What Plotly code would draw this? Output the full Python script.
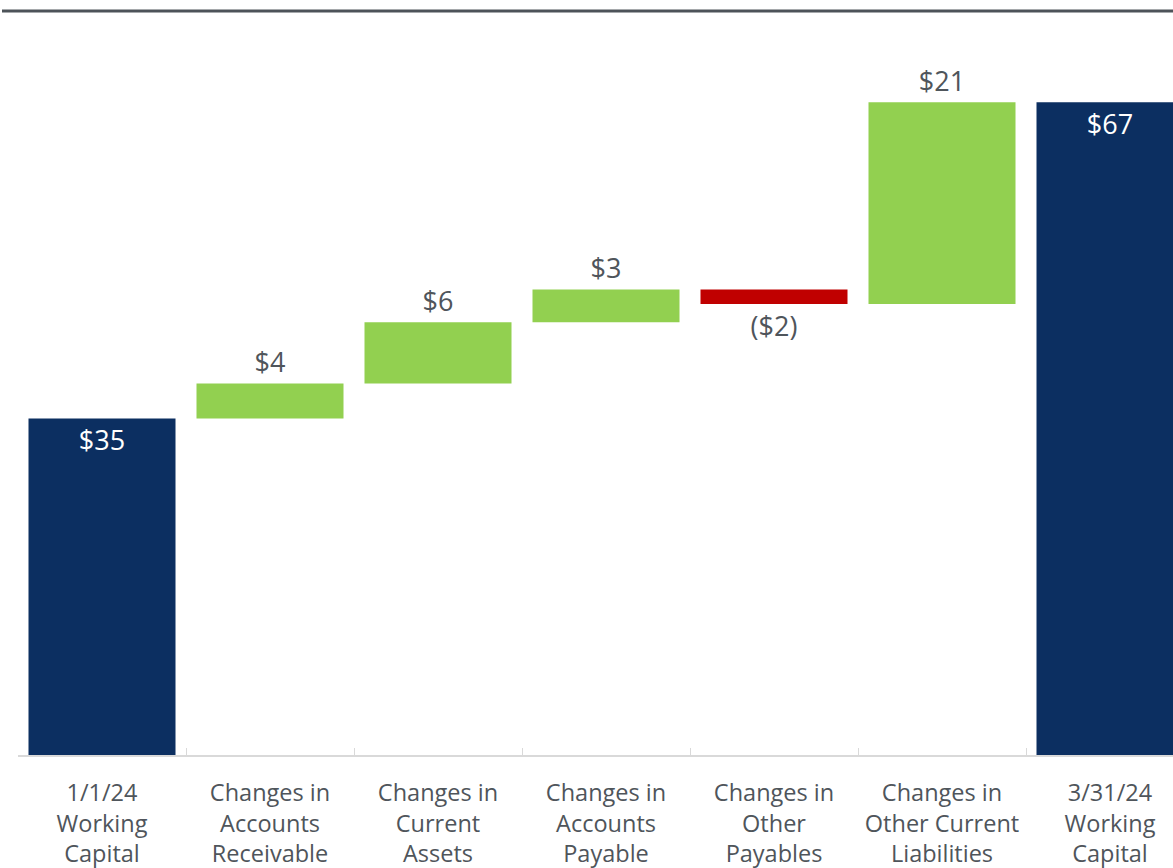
import plotly.graph_objects as go

categories = [
    "1/1/24<br>Working<br>Capital",
    "Changes in<br>Accounts<br>Receivable",
    "Changes in<br>Current<br>Assets",
    "Changes in<br>Accounts<br>Payable",
    "Changes in<br>Other<br>Payables",
    "Changes in<br>Other Current<br>Liabilities",
    "3/31/24<br>Working<br>Capital",
]
measures = ["absolute", "relative", "relative", "relative", "relative", "relative", "total"]
values = [34.7, 3.6, 6.3, 3.4, -1.5, 20.8, 0]
labels = ["$35", "$4", "$6", "$3", "($2)", "$21", "$67"]
text_pos = ["inside", "outside", "outside", "outside", "outside", "outside", "inside"]

NAVY = "#0c2f61"
GREEN = "#92d050"
RED = "#c00000"
GRAY_TXT = "#4f555b"
FONT = "Open Sans"

fig = go.Figure(go.Waterfall(
    x=categories,
    y=values,
    measure=measures,
    text=labels,
    textposition=text_pos,
    insidetextanchor="end",
    insidetextfont=dict(color="white", size=27, family=FONT),
    outsidetextfont=dict(color=GRAY_TXT, size=27, family=FONT),
    increasing=dict(marker=dict(color=GREEN)),
    decreasing=dict(marker=dict(color=RED)),
    totals=dict(marker=dict(color=NAVY)),
    connector=dict(visible=False),
    cliponaxis=True,
    hoverinfo="skip",
))

fig.update_layout(
    width=1173, height=868,
    margin=dict(l=18, r=0, t=11, b=113, autoexpand=False),
    paper_bgcolor="white", plot_bgcolor="white",
    waterfallgap=0.125,
    showlegend=False,
    xaxis=dict(
        type="category",
        range=[-0.5, 6.375],
        automargin=False,
        showline=True, linecolor="#d9d9d9", linewidth=2,
        ticks="inside", ticklen=7, tickcolor="#d9d9d9", tickwidth=1,
        tickson="boundaries",
        ticklabelstandoff=16,
        showgrid=False, zeroline=False,
        tickfont=dict(size=23.5, color=GRAY_TXT, family=FONT),
        fixedrange=True,
    ),
    yaxis=dict(
        range=[0, 76.7],
        automargin=False,
        fixedrange=True,
        visible=False, showgrid=False, zeroline=False,
    ),
    shapes=[dict(
        type="line", xref="paper", yref="paper",
        x0=-16 / 1155, x1=1, y0=1, y1=1,
        line=dict(color="#4d5359", width=3),
    )],
)

fig.write_html(
    "out.html",
    config={"displayModeBar": False},
    post_script="document.body.style.margin='0';document.documentElement.style.overflow='hidden';",
)
